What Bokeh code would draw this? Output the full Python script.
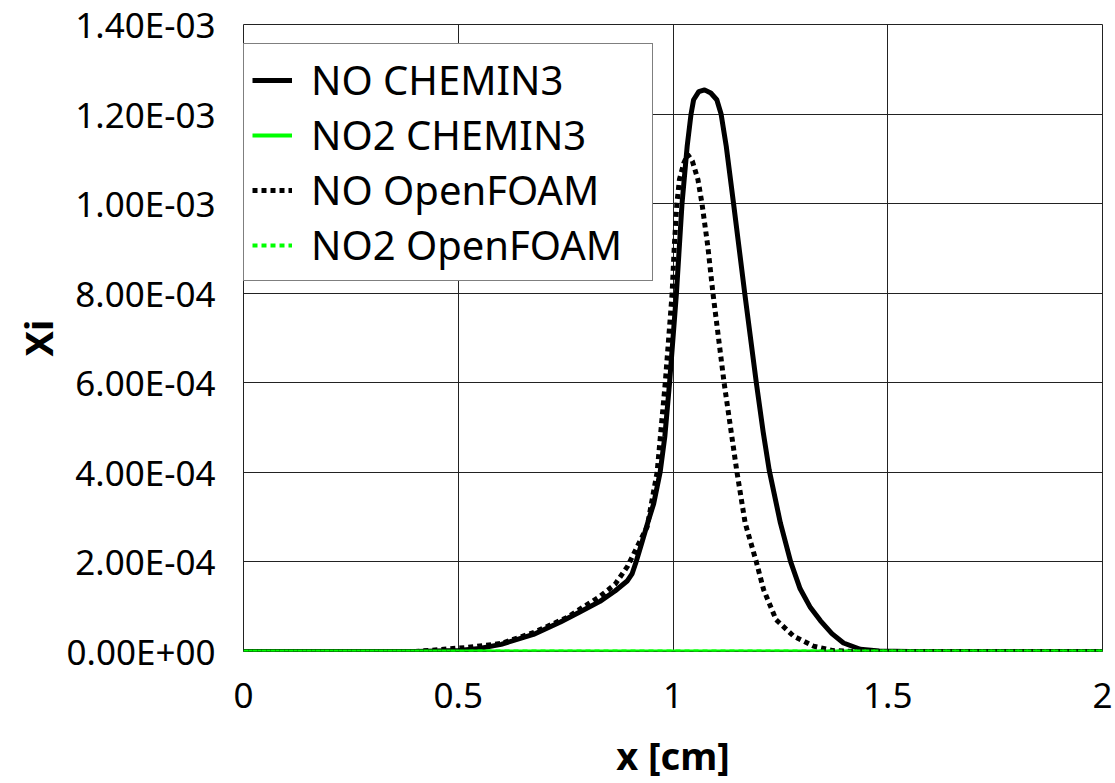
from bokeh.plotting import figure
from bokeh.models import Range1d, FixedTicker, CustomJSTickFormatter, Legend
from bokeh.embed import file_html
from bokeh.resources import INLINE

# ---- data ----
x_no_chemin = [0, 0.4, 0.5, 0.55, 0.6, 0.675, 0.738, 0.783, 0.83, 0.865, 0.894, 0.905,
               0.914, 0.925, 0.941, 0.955, 0.97, 0.981, 0.992, 1.008, 1.021, 1.033,
               1.042, 1.048, 1.06, 1.0735, 1.088, 1.102, 1.112, 1.124, 1.141, 1.167,
               1.194, 1.21, 1.224, 1.25, 1.274, 1.296, 1.32, 1.343, 1.37, 1.397, 1.436,
               1.48, 1.55, 2.0]
y_no_chemin = [0, 0, 2e-6, 7e-6, 1.6e-5, 3.8e-5, 6.6e-5, 8.8e-5, 1.12e-4, 1.35e-4,
               1.58e-4, 1.74e-4, 2.0e-4, 2.35e-4, 2.87e-4, 3.3e-4, 4.0e-4, 4.8e-4,
               6.0e-4, 8.0e-4, 1.0e-3, 1.128e-3, 1.2e-3, 1.232e-3, 1.25e-3, 1.254e-3,
               1.247e-3, 1.232e-3, 1.2e-3, 1.128e-3, 1.0e-3, 8.0e-4, 6.0e-4, 4.9e-4,
               4.05e-4, 2.87e-4, 2.0e-4, 1.4e-4, 9.8e-5, 6.9e-5, 4.0e-5, 1.9e-5, 5e-6,
               1e-6, 0, 0]

x_no_foam = [0, 0.4, 0.52, 0.6, 0.675, 0.753, 0.83, 0.865, 0.894, 0.94, 0.963, 0.982,
             0.998, 1.003, 1.009, 1.015, 1.025, 1.034, 1.045, 1.058, 1.0675, 1.081,
             1.093, 1.119, 1.149, 1.168, 1.194, 1.211, 1.24, 1.281, 1.327, 1.373,
             1.42, 2.0]
y_no_foam = [0, 0, 9e-6, 1.8e-5, 4.2e-5, 7.6e-5, 1.23e-4, 1.5e-4, 1.9e-4, 2.79e-4,
             4.0e-4, 6.0e-4, 8.0e-4, 9.05e-4, 1.0e-3, 1.054e-3, 1.09e-3, 1.11e-3,
             1.095e-3, 1.054e-3, 1.0e-3, 9.05e-4, 8.0e-4, 6.0e-4, 4.0e-4, 2.87e-4,
             2.0e-4, 1.38e-4, 7.1e-5, 3.4e-5, 1.2e-5, 2e-6, 0, 0]

x_no2_chemin = [0, 0.5, 1.0, 1.5, 2.0]
y_no2_chemin = [0, 0, 0, 0, 0]
x_no2_foam = [0, 0.5, 1.0, 1.5, 2.0]
y_no2_foam = [0, 0, 0, 0, 0]

series_names = ["NO CHEMIN3", "NO2 CHEMIN3", "NO OpenFOAM", "NO2 OpenFOAM"]

x_ticks = [0, 0.5, 1, 1.5, 2]
x_tick_labels = ["0", "0.5", "1", "1.5", "2"]
y_ticks = [0, 2e-4, 4e-4, 6e-4, 8e-4, 1.0e-3, 1.2e-3, 1.4e-3]
y_tick_labels = ["0.00E+00", "2.00E-04", "4.00E-04", "6.00E-04", "8.00E-04",
                 "1.00E-03", "1.20E-03", "1.40E-03"]

FONT = "Noto Sans"

p = figure(width=1115, height=783, output_backend="svg", toolbar_location=None,
           x_range=Range1d(0, 2), y_range=Range1d(0, 0.0014),
           min_border_left=243, min_border_right=13, min_border_top=24,
           min_border_bottom=131)
p.background_fill_color = "white"
p.border_fill_color = "white"
p.outline_line_color = "#222222"
p.outline_line_width = 1

fmt_js = """
const i = tvals.findIndex(t => Math.abs(t - tick) < 1e-9);
return i >= 0 ? tlabels[i] : "";
"""
p.xaxis.ticker = FixedTicker(ticks=x_ticks)
p.xaxis.formatter = CustomJSTickFormatter(args=dict(tvals=x_ticks, tlabels=x_tick_labels), code=fmt_js)
p.yaxis.ticker = FixedTicker(ticks=y_ticks)
p.yaxis.formatter = CustomJSTickFormatter(args=dict(tvals=y_ticks, tlabels=y_tick_labels), code=fmt_js)

for ax in (p.xaxis[0], p.yaxis[0]):
    ax.axis_line_color = None
    ax.major_tick_line_color = None
    ax.minor_tick_line_color = None
    ax.major_label_text_font = FONT
    ax.major_label_text_font_size = "35px"
    ax.major_label_text_color = "black"
    ax.axis_label_text_font = FONT
    ax.axis_label_text_font_size = "38px"
    ax.axis_label_text_font_style = "bold"
    ax.axis_label_text_color = "black"

p.xaxis.axis_label = "x [cm]"
p.yaxis.axis_label = "Xi"
p.xaxis.major_label_standoff = 25
p.yaxis.major_label_standoff = 22
p.xaxis.axis_label_standoff = 18
p.yaxis.axis_label_standoff = 0

p.xgrid.ticker = FixedTicker(ticks=x_ticks)
p.ygrid.ticker = FixedTicker(ticks=y_ticks)
for g in (p.xgrid[0], p.ygrid[0]):
    g.grid_line_color = "#222222"
    g.grid_line_width = 1

r1 = p.line(x_no_chemin, y_no_chemin, line_color="black", line_width=5, line_join="round")
r2 = p.line(x_no2_chemin, y_no2_chemin, line_color="#00ff00", line_width=4)
r3 = p.line(x_no_foam, y_no_foam, line_color="black", line_width=5, line_dash="5 4")
r4 = p.line(x_no2_foam, y_no2_foam, line_color="#00ff00", line_width=4, line_dash="5 4")

legend = Legend(items=[(series_names[0], [r1]), (series_names[1], [r2]),
                       (series_names[2], [r3]), (series_names[3], [r4])],
                location=(0, 370))
legend.border_line_color = "black"
legend.border_line_width = 1
legend.background_fill_color = "white"
legend.background_fill_alpha = 1
legend.label_text_font = FONT
legend.label_text_font_size = "40px"
legend.label_text_color = "black"
legend.glyph_width = 40
legend.glyph_height = 40
legend.label_height = 40
legend.label_width = 333
legend.label_standoff = 19
legend.spacing = 0
legend.padding = 8
legend.margin = 0
p.add_layout(legend, "center")

open("out.html", "w").write(file_html(p, INLINE))
